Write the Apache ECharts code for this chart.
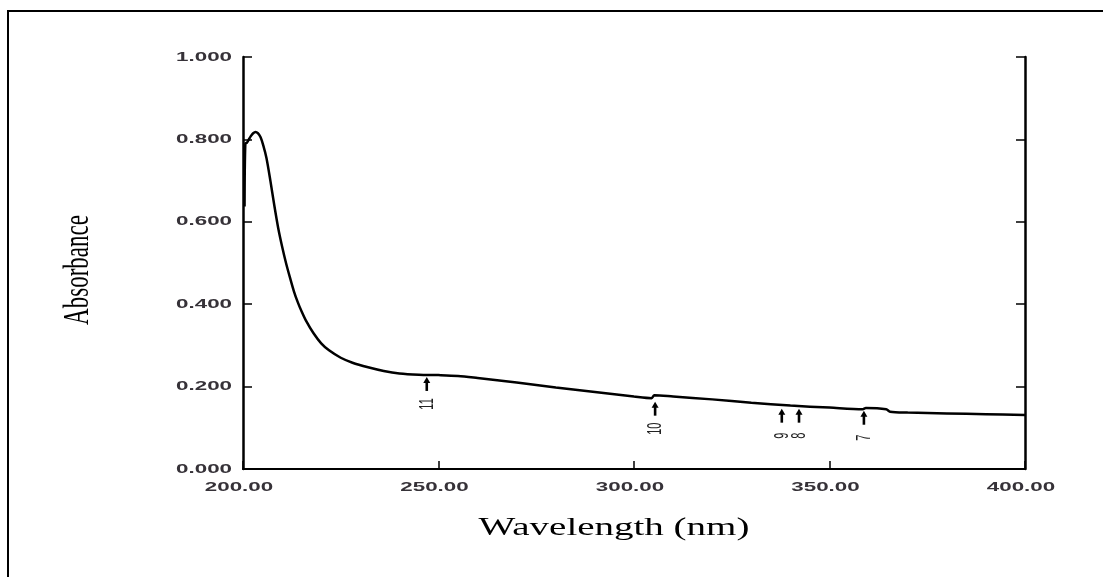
<!DOCTYPE html>
<html>
<head>
<meta charset="utf-8">
<script src="https://cdn.jsdelivr.net/npm/echarts@6/dist/echarts.min.js"></script>
<style>html,body{margin:0;padding:0;background:#fff}#c{width:1115px;height:577px}</style>
</head>
<body>
<div id="c"></div>
<script>
// Spectrum data
const wavelength = [200.4, 200.6, 201.0, 201.5, 202.0, 202.6, 203.2, 203.8, 204.5, 205.2, 206.0, 207.0, 208.0, 209.0, 210.0, 211.0, 212.0, 213.0, 214.0, 215.0, 216.0, 218.0, 220.0, 222.0, 225.0, 228.0, 232.0, 236.0, 240.0, 245.0, 250.0, 255.0, 260.0, 270.0, 280.0, 290.0, 300.0, 304.5, 305.2, 310.0, 320.0, 330.0, 340.0, 350.0, 358.5, 359.3, 364.5, 365.5, 370.0, 380.0, 390.0, 400.0];
const absorbance = [0.637, 0.790, 0.792, 0.800, 0.808, 0.815, 0.818, 0.815, 0.805, 0.785, 0.755, 0.700, 0.640, 0.585, 0.540, 0.500, 0.465, 0.432, 0.405, 0.382, 0.362, 0.330, 0.305, 0.288, 0.270, 0.258, 0.247, 0.238, 0.232, 0.229, 0.228, 0.226, 0.221, 0.210, 0.198, 0.187, 0.176, 0.172, 0.179, 0.176, 0.169, 0.161, 0.154, 0.149, 0.145, 0.148, 0.145, 0.139, 0.137, 0.135, 0.133, 0.131];

// Peak markers (arrows) with labels
const markerLabels = ['11', '10', '9', '8', '7'];
const markerX = [247.0, 305.4, 337.8, 342.2, 358.8];
const markerTop = [0.221, 0.161, 0.144, 0.144, 0.139];

// Axis ticks
const yTickValues = [0, 0.2, 0.4, 0.6, 0.8, 1.0];
const yTicks = ['0.000', '0.200', '0.400', '0.600', '0.800', '1.000'];
const xTickValues = [200, 250, 300, 350, 400];
const xTicks = ['200.00', '250.00', '300.00', '350.00', '400.00'];

const chart = echarts.init(document.getElementById('c'), null, {renderer: 'canvas'});
const STRETCH = 1.72;
const tickStyle = {fontFamily: 'Liberation Sans, Arial', fontWeight: 'bold', fontSize: 13, fill: '#363238'};

const option = {
  animation: false,
  backgroundColor: '#fff',
  grid: {left: 243, right: 90, top: 57, bottom: 108},
  xAxis: [{
    type: 'value', min: 200, max: 400, interval: 50, position: 'bottom',
    axisLine: {show: true, lineStyle: {color: '#000', width: 2}},
    axisTick: {show: true, inside: true, length: 8, lineStyle: {color: '#000', width: 1.5}},
    splitLine: {show: false}, axisLabel: {show: false}
  }, {
    type: 'value', min: 200, max: 400, interval: 50, position: 'top',
    axisLine: {show: true, lineStyle: {color: '#000', width: 1.5}},
    axisTick: {show: false}, axisLabel: {show: false}, splitLine: {show: false}
  }],
  yAxis: [{
    type: 'value', min: 0, max: 1, interval: 0.2, position: 'left',
    axisLine: {show: true, lineStyle: {color: '#000', width: 2.5}},
    axisTick: {show: true, inside: true, length: 9, lineStyle: {color: '#000', width: 1.5}},
    splitLine: {show: false}, axisLabel: {show: false}
  }, {
    type: 'value', min: 0, max: 1, interval: 0.2, position: 'right',
    axisLine: {show: true, lineStyle: {color: '#000', width: 2.5}},
    axisTick: {show: true, inside: true, length: 9, lineStyle: {color: '#000', width: 1.5}},
    axisLabel: {show: false}, splitLine: {show: false}
  }],
  graphic: [
    {type: 'polyline', shape: {points: [[8, 577], [8, 11], [1103, 11]]}, style: {stroke: '#000', lineWidth: 2, fill: null}},
    {type: 'text', x: 614, y: 528, scaleX: 1.5,
      style: {text: 'Wavelength (nm)', fontFamily: 'Liberation Serif, Times New Roman', fontSize: 26, fill: '#000', align: 'center', verticalAlign: 'middle'}},
    {type: 'text', x: 78, y: 270, rotation: Math.PI / 2, scaleY: 1.6,
      style: {text: 'Absorbance', fontFamily: 'Liberation Serif, Times New Roman', fontSize: 23, fill: '#000', align: 'center', verticalAlign: 'middle'}}
  ],
  series: [{
    type: 'line', xAxisIndex: 0, yAxisIndex: 0,
    data: wavelength.map((w, i) => [w, absorbance[i]]),
    showSymbol: false, smooth: 0.3,
    lineStyle: {color: '#000', width: 2.5}
  }, {
    // arrows marking peaks
    type: 'custom', xAxisIndex: 0, yAxisIndex: 0, clip: false,
    data: markerX.map((x, i) => [x, markerTop[i]]),
    renderItem: function (params, api) {
      const p = api.coord([api.value(0), api.value(1)]);
      const len = 13;
      return {
        type: 'group',
        children: [
          {type: 'line', shape: {x1: p[0], y1: p[1] + 3, x2: p[0], y2: p[1] + len}, style: {stroke: '#000', lineWidth: 2.6}},
          {type: 'polygon', shape: {points: [[p[0], p[1] - 1], [p[0] - 3.5, p[1] + 5], [p[0] + 3.5, p[1] + 5]]}, style: {fill: '#000'}},
          {type: 'text', x: p[0], y: p[1] + len + 13, rotation: Math.PI / 2, scaleY: 1.9,
            style: {text: markerLabels[params.dataIndex], fontFamily: 'Liberation Sans, Arial', fontSize: 11, fill: '#222', align: 'center', verticalAlign: 'middle'}}
        ]
      };
    }
  }, {
    // x tick labels
    type: 'custom', xAxisIndex: 0, yAxisIndex: 0, clip: false,
    data: xTickValues.map(v => [v, 0]),
    renderItem: function (params, api) {
      const p = api.coord([api.value(0), api.value(1)]);
      return {type: 'text', x: p[0] - 4, y: p[1] + 18, scaleX: STRETCH,
        style: Object.assign({text: xTicks[params.dataIndex], align: 'center', verticalAlign: 'middle'}, tickStyle)};
    }
  }, {
    // y tick labels
    type: 'custom', xAxisIndex: 0, yAxisIndex: 0, clip: false,
    data: yTickValues.map(v => [200, v]),
    renderItem: function (params, api) {
      const p = api.coord([api.value(0), api.value(1)]);
      return {type: 'text', x: p[0] - 11, y: p[1], scaleX: STRETCH,
        style: Object.assign({text: yTicks[params.dataIndex], align: 'right', verticalAlign: 'middle'}, tickStyle)};
    }
  }]
};
chart.setOption(option);
</script>
</body>
</html>
